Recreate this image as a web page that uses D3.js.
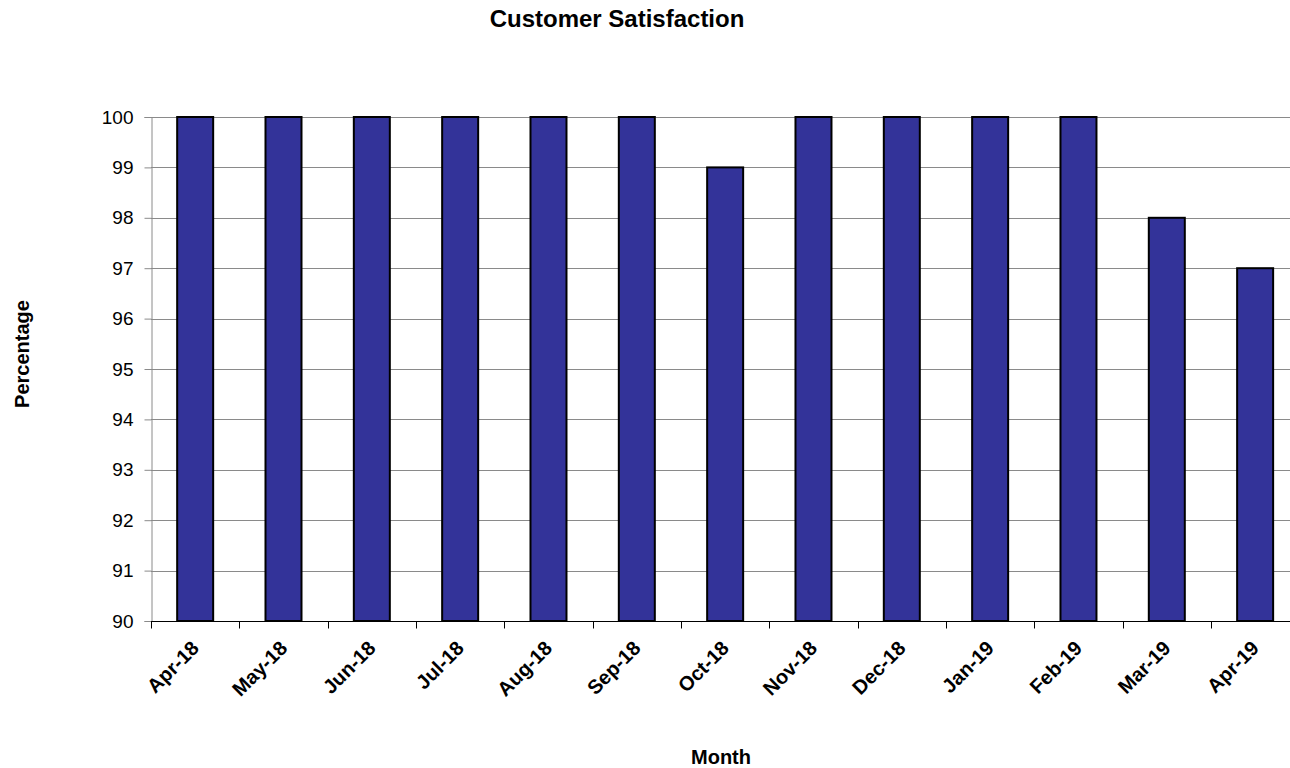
<!DOCTYPE html>
<html>
<head>
<meta charset="utf-8">
<script src="https://cdn.jsdelivr.net/npm/d3@7"></script>
<style>
  body { margin: 0; background: #fff; }
  svg { display: block; font-family: "Liberation Sans", Arial, sans-serif; }
</style>
</head>
<body>
<div id="chart"></div>
<script>
// monthly satisfaction scores
const months = ["Apr-18", "May-18", "Jun-18", "Jul-18", "Aug-18", "Sep-18", "Oct-18",
  "Nov-18", "Dec-18", "Jan-19", "Feb-19", "Mar-19", "Apr-19"];
const satisfaction = [100, 100, 100, 100, 100, 100, 99, 100, 100, 100, 100, 98, 97];
const yTicks = [90, 91, 92, 93, 94, 95, 96, 97, 98, 99, 100];

const W = 1290, H = 768;
const plotLeft = 151, plotRight = 1299.3, plotTop = 117, plotBottom = 621;

const svg = d3.select("#chart").append("svg")
  .attr("width", W)
  .attr("height", H);

const x = d3.scaleBand()
  .domain(months)
  .range([plotLeft, plotRight])
  .paddingInner(0)
  .paddingOuter(0);

const y = d3.scaleLinear()
  .domain([90, 100])
  .range([plotBottom, plotTop]);

// gridlines
svg.append("g")
  .selectAll("line")
  .data(yTicks.filter(d => d > 90))
  .enter()
  .append("line")
  .attr("x1", plotLeft)
  .attr("x2", plotRight)
  .attr("y1", d => Math.round(y(d)) + 0.5)
  .attr("y2", d => Math.round(y(d)) + 0.5)
  .attr("stroke", "#8a8a8a")
  .attr("stroke-width", 1);

// y axis
const yAxis = svg.append("g")
  .attr("transform", `translate(${plotLeft + 0.5},0)`)
  .call(d3.axisLeft(y).tickValues(yTicks).tickSize(7).tickPadding(11));
yAxis.select(".domain").attr("stroke", "#8a8a8a");
yAxis.selectAll(".tick line").attr("stroke", "#8a8a8a");
yAxis.selectAll(".tick text")
  .attr("font-size", 19)
  .attr("font-family", "Liberation Sans, Arial, sans-serif")
  .attr("fill", "#000");

// bars
const barW = 36;
svg.selectAll(".bar")
  .data(months.map((m, i) => ({ month: m, value: satisfaction[i] })))
  .enter()
  .append("rect")
  .attr("class", "bar")
  .attr("x", d => x(d.month) + x.bandwidth() / 2 - barW / 2)
  .attr("y", d => y(d.value))
  .attr("width", barW)
  .attr("height", d => y(90) - y(d.value))
  .attr("fill", "#333399")
  .attr("stroke", "#000")
  .attr("stroke-width", 2);

// x axis with ticks at category boundaries
const xAxis = svg.append("g")
  .attr("transform", `translate(0,${Math.round(plotBottom) + 0.5})`);
xAxis.append("line")
  .attr("x1", plotLeft)
  .attr("x2", plotRight)
  .attr("stroke", "#000");
xAxis.selectAll(".tk")
  .data(months)
  .enter()
  .append("line")
  .attr("x1", d => Math.round(x(d)) + 0.5)
  .attr("x2", d => Math.round(x(d)) + 0.5)
  .attr("y1", 0)
  .attr("y2", 7)
  .attr("stroke", "#000");

xAxis.selectAll(".lbl")
  .data(months)
  .enter()
  .append("text")
  .attr("transform", d => `translate(${x(d) + x.bandwidth() / 2 + 5},${28}) rotate(-45)`)
  .attr("text-anchor", "end")
  .attr("font-size", 20)
  .attr("font-weight", "bold")
  .attr("fill", "#000")
  .text(d => d);

// titles
svg.append("text")
  .attr("x", 617)
  .attr("y", 27)
  .attr("text-anchor", "middle")
  .attr("font-size", 24)
  .attr("font-weight", "bold")
  .text("Customer Satisfaction");

svg.append("text")
  .attr("x", 721)
  .attr("y", 764)
  .attr("text-anchor", "middle")
  .attr("font-size", 20)
  .attr("font-weight", "bold")
  .text("Month");

svg.append("text")
  .attr("transform", "translate(29,354) rotate(-90)")
  .attr("text-anchor", "middle")
  .attr("font-size", 20)
  .attr("font-weight", "bold")
  .text("Percentage");
</script>
</body>
</html>
